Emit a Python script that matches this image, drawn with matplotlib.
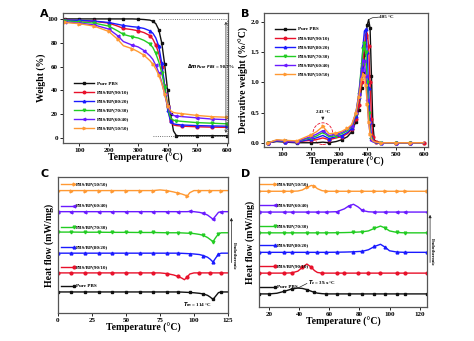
import matplotlib
matplotlib.use("Agg")
import matplotlib.pyplot as plt
from matplotlib.patches import Ellipse
import numpy as np

plt.rcParams['font.family'] = ['Liberation Serif', 'DejaVu Serif']
plt.rcParams['font.weight'] = 'bold'
plt.rcParams['axes.labelweight'] = 'bold'

names = ["Pure PBS", "PBS/BP(90/10)", "PBS/BP(80/20)", "PBS/BP(70/30)",
         "PBS/BP(60/40)", "PBS/BP(50/50)"]
colors = ["#111111", "#e8102a", "#1a1aff", "#22cc22", "#6a1aff", "#ff9933"]
markers = ["s", "o", "^", "v", "<", ">"]

# ---- A: TGA ----
tga_t = [50, 100, 150, 200, 230, 250, 280, 300, 320, 340, 350, 360, 370,
         380, 390, 400, 410, 420, 430, 450, 500, 550, 600]
tga_w = [
    [100, 100, 100, 100, 100, 100, 100, 99.8, 99.5, 99, 98, 96, 91, 80, 62, 40, 20, 6, 2, 2, 2, 2, 2],
    [99, 98.5, 98, 96.5, 94, 92, 91, 90, 88.5, 86, 83, 78, 71, 60, 44, 27, 14, 11, 10.5, 10, 9.5, 9.2, 9],
    [99, 98.8, 98.2, 97, 95.5, 94.5, 93.5, 93, 92, 90, 88, 84, 77, 63, 44, 24, 14, 12, 11.5, 11, 10.5, 10.2, 10],
    [98.5, 97.5, 96.5, 94, 90, 87, 85, 84, 82, 79, 76, 71, 64, 55, 43, 26, 17, 15, 14.5, 14, 13, 12.5, 12],
    [97.5, 96.5, 95, 91.5, 86, 81, 78, 76.5, 73.5, 69, 66, 61, 55, 47, 37, 26, 21, 19, 18.5, 18, 17, 16, 15.5],
    [97, 96, 94, 89.5, 83, 77.5, 75, 72.5, 69.5, 65, 62, 58, 53, 46, 37, 27, 23, 21.5, 21, 20.5, 19, 18, 17.5],
]

# ---- B: DTG ----
dtg_t = [50, 80, 110, 150, 180, 200, 220, 243, 265, 290, 310, 330, 345, 360,
         370, 380, 385, 390, 395, 400, 405, 410, 415, 420, 425, 430, 450, 500, 550, 600]
dtg_v = [
    [0.0, 0.02, 0.01, 0.0, 0.0, 0.0, 0.0, 0.01, 0.0, 0.02, 0.05, 0.1, 0.18, 0.35, 0.55, 0.9, 1.15, 1.45, 1.75, 1.95, 2.04, 1.9, 1.1, 0.3, 0.05, 0.02, 0.0, 0.0, 0.0, 0.0],
    [0.0, 0.03, 0.02, 0.01, 0.03, 0.04, 0.05, 0.08, 0.05, 0.08, 0.1, 0.15, 0.22, 0.4, 0.62, 1.0, 1.3, 1.6, 1.78, 1.82, 1.6, 1.0, 0.4, 0.1, 0.03, 0.01, 0.0, 0.0, 0.0, 0.0],
    [0.0, 0.03, 0.02, 0.01, 0.04, 0.06, 0.08, 0.12, 0.07, 0.1, 0.12, 0.17, 0.24, 0.45, 0.75, 1.25, 1.6, 1.85, 1.88, 1.5, 0.9, 0.35, 0.1, 0.03, 0.01, 0.0, 0.0, 0.0, 0.0, 0.0],
    [0.0, 0.04, 0.03, 0.02, 0.06, 0.08, 0.11, 0.17, 0.1, 0.12, 0.15, 0.2, 0.27, 0.48, 0.8, 1.3, 1.55, 1.65, 1.5, 1.0, 0.5, 0.2, 0.06, 0.02, 0.01, 0.0, 0.0, 0.0, 0.0, 0.0],
    [0.0, 0.04, 0.03, 0.02, 0.07, 0.1, 0.14, 0.2, 0.12, 0.14, 0.17, 0.22, 0.28, 0.5, 0.8, 1.2, 1.38, 1.35, 1.1, 0.7, 0.35, 0.15, 0.05, 0.02, 0.01, 0.0, 0.0, 0.0, 0.0, 0.0],
    [0.0, 0.05, 0.04, 0.03, 0.09, 0.13, 0.18, 0.27, 0.15, 0.16, 0.19, 0.24, 0.3, 0.5, 0.75, 1.05, 1.15, 1.12, 0.95, 0.65, 0.35, 0.15, 0.06, 0.03, 0.02, 0.01, 0.0, 0.0, 0.0, 0.0],
]

# ---- C: DSC heating (relative heat flow) ----
dsc_h_t = [0, 10, 20, 30, 40, 50, 60, 70, 75, 80, 85, 88, 91, 93, 95, 97, 100,
           104, 107, 110, 112, 114, 116, 118, 120, 125]
dsc_h = [
    [0, 0, 0, 0, 0, 0, 0, 0, 0, 0, 0, 0, -0.01, -0.02, -0.03, -0.04, -0.06, -0.1, -0.15, -0.25, -0.38, -0.55, -0.3, -0.05, 0.0, 0.0],
    [0, 0, 0, 0, 0, 0, 0, 0, 0, -0.05, -0.15, -0.25, -0.38, -0.5, -0.3, -0.08, 0, 0, 0, 0, 0, 0, 0, 0, 0, 0],
    [0, 0, 0, 0, 0, 0, 0, 0, 0, 0, 0, 0, -0.01, -0.02, -0.03, -0.04, -0.06, -0.1, -0.18, -0.3, -0.45, -0.65, -0.35, -0.08, 0.0, 0.0],
    [0.05, 0.05, 0.04, 0.04, 0.03, 0.03, 0.02, 0.02, 0.01, 0.0, 0.0, 0.0, -0.01, -0.02, -0.03, -0.04, -0.06, -0.12, -0.2, -0.35, -0.5, -0.65, -0.35, -0.08, 0.0, 0.0],
    [0, 0, 0, 0, 0, 0, 0, 0, 0, 0, 0, 0, 0, 0, 0, 0.02, 0.0, -0.05, -0.12, -0.25, -0.4, -0.55, -0.3, -0.05, 0.0, 0.0],
    [0, 0, 0, 0, 0, 0, 0, 0, 0.05, 0.0, -0.1, -0.18, -0.25, -0.32, -0.4, -0.15, 0, 0, 0, 0, 0, 0, 0, 0, 0, 0],
]
dsc_h_off = [1.55, 2.95, 4.4, 5.9, 7.45, 9.0]

# ---- D: DSC cooling (relative heat flow) ----
dsc_c_t = [13, 20, 25, 30, 35, 39, 42, 45, 48, 50, 52, 55, 58, 65, 70, 73, 76,
           79, 82, 86, 90, 94, 97, 100, 105, 110, 125]
dsc_c = [
    [0, 0, 0.05, 0.2, 0.38, 0.45, 0.42, 0.33, 0.2, 0.12, 0.06, 0.02, 0, 0, 0, 0, 0, 0, 0, 0, 0, 0, 0, 0, 0, 0, 0],
    [0, 0, 0, 0, 0.02, 0.15, 0.45, 0.7, 0.45, 0.2, 0.05, 0, 0, 0, 0, 0, 0, 0, 0, 0, 0, 0, 0, 0, 0, 0, 0],
    [0, 0, 0, 0, 0, 0, 0, 0, 0, 0, 0, 0, 0, 0.01, 0.02, 0.03, 0.04, 0.06, 0.08, 0.2, 0.45, 0.62, 0.4, 0.12, 0.02, 0, 0],
    [0, 0, 0, 0, 0, 0, 0, 0, 0, 0, 0, 0, 0, 0.01, 0.02, 0.03, 0.04, 0.06, 0.08, 0.15, 0.35, 0.52, 0.38, 0.15, 0.03, 0, 0],
    [0, 0, 0, 0, 0, 0, 0, 0, 0, 0, 0, 0, 0, 0.03, 0.25, 0.48, 0.6, 0.4, 0.12, 0.02, 0, 0, 0, 0, 0, 0, 0],
    [0, 0, 0, 0, 0, 0.02, 0.1, 0.3, 0.45, 0.38, 0.2, 0.05, 0, 0, 0, 0, 0, 0, 0, 0, 0, 0, 0, 0, 0, 0, 0],
]
dsc_c_off = [1.0, 2.6, 4.2, 5.7, 7.3, 8.9]

fig = plt.figure(figsize=(4.74, 3.41), dpi=100)
axA = fig.add_axes([0.133, 0.581, 0.348, 0.381])
axB = fig.add_axes([0.557, 0.569, 0.346, 0.393])
axC = fig.add_axes([0.122, 0.082, 0.359, 0.399])
axD = fig.add_axes([0.546, 0.100, 0.355, 0.381])

LW = 1.0
MS = 2.0
EVERY = 0.07


def style(ax):
    for s in ax.spines.values():
        s.set_color("#555555")
        s.set_linewidth(0.9)
    ax.tick_params(labelsize=5, width=0.6, length=2, pad=1.5)
    for lab in ax.get_xticklabels() + ax.get_yticklabels():
        lab.set_fontweight("bold")


# A
for i in range(6):
    axA.plot(tga_t, tga_w[i], color=colors[i], lw=LW, marker=markers[i],
             ms=MS, markevery=EVERY, label=names[i])
axA.set_xlim(45, 605)
axA.set_ylim(-4, 105)
axA.set_xticks([100, 200, 300, 400, 500, 600])
axA.set_yticks([0, 20, 40, 60, 80, 100])
axA.plot([370, 600], [100, 100], ls=":", color="#444444", lw=0.6)
axA.plot([350, 600], [2, 2], ls=":", color="#444444", lw=0.6)
axA.plot([600, 600], [2, 100], ls=":", color="#444444", lw=0.6)
axA.annotate("", xy=(598, 100), xytext=(598, 2),
             arrowprops=dict(arrowstyle="<->", lw=0.5, color="#222222", mutation_scale=4))
axA.text(465, 60, r"$\Delta m_{Pure\ PBS}$ = 98.7%", fontsize=3.6, va="center")
axA.legend(loc="lower left", bbox_to_anchor=(0.04, 0.06), fontsize=3.6, frameon=False,
           handlelength=4, labelspacing=0.9, handletextpad=0.5, markerscale=0.9)
axA.set_xlabel("Temperature (°C)", fontsize=7, labelpad=0)
axA.set_ylabel("Weight (%)", fontsize=7, labelpad=1)
style(axA)

# B
for i in range(6):
    axB.plot(dtg_t, dtg_v[i], color=colors[i], lw=LW, marker=markers[i],
             ms=MS, markevery=EVERY, label=names[i])
axB.set_xlim(35, 615)
axB.set_ylim(-0.07, 2.15)
axB.set_xticks([100, 200, 300, 400, 500, 600])
axB.set_yticks([0.0, 0.5, 1.0, 1.5, 2.0])
axB.plot([405, 418, 440], [2.04, 2.07, 2.08], color="#222222", lw=0.5)
axB.text(443, 2.08, "405 °C", fontsize=3.6, va="center")
axB.text(243, 0.47, "243 °C", fontsize=3.6, ha="center", va="bottom")
axB.annotate("", xy=(243, 0.33), xytext=(243, 0.45),
             arrowprops=dict(arrowstyle="-|>", lw=0.5, color="#222222", mutation_scale=4))
axB.add_patch(Ellipse((243, 0.15), 70, 0.36, fill=False, ls="--", lw=0.6, color="#e8102a"))
axB.legend(loc="upper left", bbox_to_anchor=(0.04, 0.93), fontsize=3.6, frameon=False,
           handlelength=4, labelspacing=0.9, handletextpad=0.5, markerscale=0.9)
axB.set_xlabel("Temperature (°C)", fontsize=7, labelpad=0)
axB.set_ylabel("Derivative weight (%/°C)", fontsize=7, labelpad=1)
style(axB)

# C
for i in range(6):
    y = np.array(dsc_h[i]) + dsc_h_off[i]
    axC.plot(dsc_h_t, y, color=colors[i], lw=LW, marker=markers[i], ms=MS,
             markevery=0.055)
    axC.plot([2, 12], [dsc_h_off[i] + 0.45] * 2, color=colors[i], lw=LW,
             marker=markers[i], ms=MS, markevery=[1])
    axC.text(13.5, dsc_h_off[i] + 0.45, names[i], fontsize=3.6, va="center")
axC.set_xlim(0, 125)
axC.set_ylim(0, 10)
axC.set_xticks([0, 25, 50, 75, 100, 125])
axC.set_yticks([])
axC.text(92, 0.62, r"$T_m$ = 114 °C", fontsize=3.6, va="center")
axC.annotate("", xy=(127.5, 7.2), xytext=(127.5, 3.5), annotation_clip=False,
             arrowprops=dict(arrowstyle="-|>", lw=0.5, color="#222222", mutation_scale=4))
axC.text(129, 4.2, "Endothermic", fontsize=3.6, rotation=270, va="center",
         ha="center", clip_on=False)
axC.set_xlabel("Temperature (°C)", fontsize=7, labelpad=0)
axC.set_ylabel("Heat flow (mW/mg)", fontsize=7, labelpad=3)
style(axC)

# D
for i in range(6):
    y = np.array(dsc_c[i]) + dsc_c_off[i]
    axD.plot(dsc_c_t, y, color=colors[i], lw=LW, marker=markers[i], ms=MS,
             markevery=0.055)
    axD.plot([14, 24], [dsc_c_off[i] + 0.55] * 2, color=colors[i], lw=LW,
             marker=markers[i], ms=MS, markevery=[1])
    axD.text(25, dsc_c_off[i] + 0.55, names[i], fontsize=3.6, va="center")
axD.plot([39, 45], [1.45, 1.8], color="#222222", lw=0.5)
axD.text(45.5, 1.85, r"$T_c$ = 39.x °C", fontsize=3.6, va="center")
axD.set_xlim(13, 125)
axD.set_ylim(0, 10)
axD.set_xticks([20, 40, 60, 80, 100, 120])
axD.set_yticks([])
axD.annotate("", xy=(127, 7.3), xytext=(127, 3.2), annotation_clip=False,
             arrowprops=dict(arrowstyle="-|>", lw=0.5, color="#222222", mutation_scale=4))
axD.text(128.5, 4.2, "Endothermic", fontsize=3.6, rotation=270, va="center",
         ha="center", clip_on=False)
axD.set_xlabel("Temperature (°C)", fontsize=7, labelpad=0)
axD.set_ylabel("Heat flow (mW/mg)", fontsize=7, labelpad=3)
style(axD)

for lab, x, y in [("A", 0.085, 0.975), ("B", 0.508, 0.975), ("C", 0.085, 0.505),
                  ("D", 0.508, 0.505)]:
    fig.text(x, y, lab, fontsize=8, fontweight="bold", family="DejaVu Sans",
             va="top")

fig.savefig("out.png", dpi=100)
